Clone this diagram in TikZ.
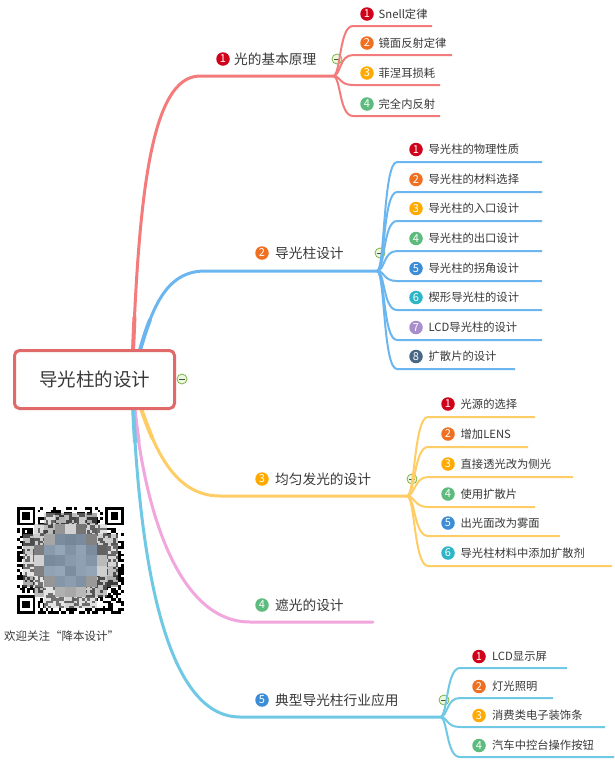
\documentclass[tikz,border=0pt]{standalone}
\usepackage{fontspec}
\setmainfont{Noto Sans CJK SC}
\usetikzlibrary{positioning,calc,backgrounds}

\definecolor{txt}{HTML}{383838}
\definecolor{rootred}{HTML}{E06A6A}
\definecolor{brred}{HTML}{F47B7B}
\definecolor{brblue}{HTML}{6CB6EF}
\definecolor{bryellow}{HTML}{FFCD66}
\definecolor{brpink}{HTML}{F1A6DD}
\definecolor{brcyan}{HTML}{6FC8E4}
\definecolor{n1}{HTML}{D0021B}
\definecolor{n2}{HTML}{F07022}
\definecolor{n3}{HTML}{FFAA00}
\definecolor{n4}{HTML}{5DBB7D}
\definecolor{n5}{HTML}{3C8DD6}
\definecolor{n6}{HTML}{2DB6C8}
\definecolor{n7}{HTML}{A88FCB}
\definecolor{n8}{HTML}{4A6786}
\definecolor{foldgreen}{HTML}{7AB648}
\definecolor{foldfill}{HTML}{EEF6E4}
\definecolor{qrblue}{HTML}{7A93AD}

\begin{document}
\begin{tikzpicture}[x=1pt, y=-1pt,
  root/.style={rectangle, draw=rootred, line width=3pt, rounded corners=5pt,
               fill=white, minimum width=160pt, minimum height=58pt,
               font=\fontsize{18.5}{20}\selectfont, text=txt},
  badge/.style={circle, fill=#1, text=white, minimum size=13.5pt, inner sep=0pt,
                font=\fontsize{11}{11}\selectfont},
  main/.style={inner sep=0pt, anchor=west, text=txt,
               font=\fontsize{13.7}{15}\selectfont},
  leaf/.style={inner sep=0pt, anchor=west, text=txt,
               font=\fontsize{11.3}{13}\selectfont},
  fold/.style={circle, draw=foldgreen, fill=foldfill, line width=0.8pt,
               minimum size=10pt, inner sep=0pt,
               path picture={\draw[foldgreen!50!black, line width=1pt]
                 ([xshift=-3pt]path picture bounding box.center) --
                 ([xshift=3pt]path picture bounding box.center);}},
  branch/.style={draw=#1, line width=3pt, line cap=round},
  stem/.style={draw=#1, line width=4pt, line cap=round, dash pattern=on 62pt off 2000pt},
  twig/.style={draw=#1, line width=2pt},
  node distance=5pt
]
  \useasboundingbox (0,0) rectangle (615,769);

  % central topic
  \node[root] (root) at (94.5,379.5) {导光柱的设计};
  \node[fold] (f0) at (182,379) {};
  \coordinate (hub) at ($(root.center)+(37.5,0)$);

  % main topics
  \node[badge=n1] (m1n) at (223,59) {1};
  \node[main, right=4pt of m1n] (m1) {光的基本原理};
  \coordinate (m1a) at (200,76);
  \coordinate (m1b) at (333,76);
  \node[fold] (f1) at (337,59) {};

  \node[badge=n2] (m2n) at (262,253) {2};
  \node[main, right=6pt of m2n] (m2) {导光柱设计};
  \coordinate (m2a) at (205,271);
  \coordinate (m2b) at (377,271);
  \node[fold] (f2) at (380,253) {};

  \node[badge=n3] (m3n) at (262,479) {3};
  \node[main, right=6pt of m3n] (m3) {均匀发光的设计};
  \coordinate (m3a) at (220,496);
  \coordinate (m3b) at (407,496);
  \node[fold] (f3) at (412,479) {};

  \node[badge=n4] (m4n) at (262,605) {4};
  \node[main, right=6pt of m4n] (m4) {遮光的设计};
  \coordinate (m4a) at (250,622);
  \coordinate (m4b) at (373,622);

  \node[badge=n5] (m5n) at (262,700) {5};
  \node[main, right=6pt of m5n] (m5) {典型导光柱行业应用};
  \coordinate (m5a) at (240,717);
  \coordinate (m5b) at (440,717);
  \node[fold] (f5) at (444,700) {};

  \begin{scope}[on background layer]
    \fill[white] (0,0) rectangle (615,769);
    \draw[branch=brred] (hub) .. controls (138,200) and (150,76) .. (m1a) -- (m1b);
    \draw[branch=brblue] (hub) .. controls (148,320) and (160,271) .. (m2a) -- (m2b);
    \draw[branch=bryellow] (hub) .. controls (150,440) and (170,496) .. (m3a) -- (m3b);
    \draw[branch=brpink] (hub) .. controls (140,500) and (175,622) .. (m4a) -- (m4b);
    \draw[branch=brcyan] (hub) .. controls (138,560) and (165,717) .. (m5a) -- (m5b);
    % thicker near the centre
    \draw[stem=brred] (hub) .. controls (138,200) and (150,76) .. (m1a);
    \draw[stem=brblue] (hub) .. controls (148,320) and (160,271) .. (m2a);
    \draw[stem=bryellow] (hub) .. controls (150,440) and (170,496) .. (m3a);
    \draw[stem=brpink] (hub) .. controls (140,500) and (175,622) .. (m4a);
    \draw[stem=brcyan] (hub) .. controls (138,560) and (165,717) .. (m5a);
  \end{scope}

  % sub topics
  \foreach \i/\y/\e/\t in {1/26/432/Snell定律, 2/55/452/镜面反射定律,
                           3/85/440/菲涅耳损耗, 4/116/440/完全内反射}{
    \node[badge=n\i] (s1-\i-n) at (367,\y-12) {\i};
    \node[leaf, right=4.5pt of s1-\i-n] (s1-\i) {\t};
    \coordinate (s1-\i-a) at (353,\y);
    \coordinate (s1-\i-b) at (\e,\y);
    \draw[twig=brred] (m1b) .. controls +(8,0) and +(-14,0) .. (s1-\i-a) -- (s1-\i-b);
  }
  \foreach \i/\y/\e/\t in {1/162/542/导光柱的物理性质, 2/192/542/导光柱的材料选择,
                           3/221/542/导光柱的入口设计, 4/251/542/导光柱的出口设计,
                           5/281/542/导光柱的拐角设计, 6/310/542/楔形导光柱的设计,
                           7/340/542/LCD导光柱的设计, 8/369/515/扩散片的设计}{
    \node[badge=n\i] (s2-\i-n) at (416,\y-12.5) {\i};
    \node[leaf, right=5.5pt of s2-\i-n] (s2-\i) {\t};
    \coordinate (s2-\i-a) at (397,\y);
    \coordinate (s2-\i-b) at (\e,\y);
    \draw[twig=brblue] (m2b) .. controls +(8,0) and +(-14,0) .. (s2-\i-a) -- (s2-\i-b);
  }
  \foreach \i/\y/\e/\t in {1/417/535/光源的选择, 2/447/528/增加LENS,
                           3/477/573/直接透光改为侧光, 4/507/535/使用扩散片,
                           5/536/560/出光面改为雾面, 6/566/612/导光柱材料中添加扩散剂}{
    \node[badge=n\i] (s3-\i-n) at (448,\y-13) {\i};
    \node[leaf, right=5.5pt of s3-\i-n] (s3-\i) {\t};
    \coordinate (s3-\i-a) at (428,\y);
    \coordinate (s3-\i-b) at (\e,\y);
    \draw[twig=bryellow] (m3b) .. controls +(8,0) and +(-14,0) .. (s3-\i-a) -- (s3-\i-b);
  }
  \foreach \i/\y/\e/\t in {1/668/567/LCD显示屏, 2/698/553/灯光照明,
                           3/727/605/消费类电子装饰条, 4/757/614/汽车中控台操作按钮}{
    \node[badge=n\i] (s5-\i-n) at (479,\y-11.5) {\i};
    \node[leaf, right=6pt of s5-\i-n] (s5-\i) {\t};
    \coordinate (s5-\i-a) at (460,\y);
    \coordinate (s5-\i-b) at (\e,\y);
    \draw[twig=brcyan] (m5b) .. controls +(8,0) and +(-14,0) .. (s5-\i-a) -- (s5-\i-b);
  }

  % qr code (blurred)
  \begin{scope}[shift={(17,507)}]
    \pgfmathsetseed{17}
    \foreach \i in {0,...,40}
      \foreach \j in {0,...,40}{
        \pgfmathrandominteger{\r}{0}{1}
        \ifnum\r=1 \fill[black] (\i*2.6,\j*2.6) rectangle +(2.6,2.6); \fi
      }
    \foreach \p in {(0,0),(88.4,0),(0,88.4)}{
      \fill[white] \p ++(-2.6,-2.6) rectangle +(23.4,23.4);
      \fill[black] \p rectangle +(18.2,18.2);
      \fill[white] \p ++(2.6,2.6) rectangle +(13,13);
      \fill[black] \p ++(5.2,5.2) rectangle +(7.8,7.8);
    }
    \foreach \i in {0,...,8}
      \foreach \j in {0,...,8}{
        \pgfmathsetmacro{\d}{veclen(\i-4,\j-4)}
        \pgfmathrandominteger{\g}{18}{62}
        \colorlet{cell}{black!\g}
        \ifdim\d pt<2.3pt \colorlet{cell}{qrblue!70!cell}\fi
        \ifdim\d pt<3.6pt
          \fill[cell] (6+\i*10.5,6+\j*10.5) rectangle +(10.5,10.5);
        \else\ifdim\d pt<4.6pt
          \fill[cell, opacity=0.55] (6+\i*10.5,6+\j*10.5) rectangle +(10.5,10.5);
        \fi\fi
      }
  \end{scope}
  \node[anchor=west, inner sep=0pt, text=txt, font=\fontsize{11.5}{13}\selectfont]
    (cap) at (4,636) {欢迎关注“降本设计”};
\end{tikzpicture}
\end{document}
